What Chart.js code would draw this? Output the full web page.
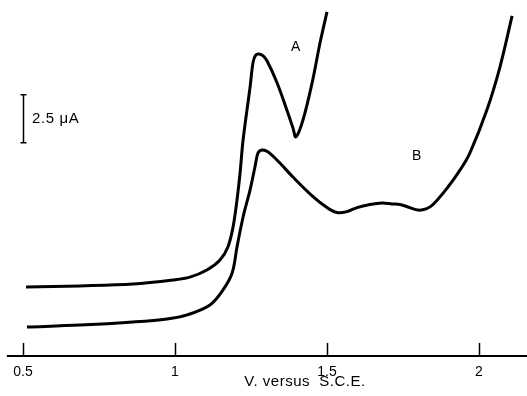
<!DOCTYPE html>
<html>
<head>
<meta charset="utf-8">
<script src="https://cdn.jsdelivr.net/npm/chart.js@4"></script>
<style>
  html, body { margin: 0; padding: 0; background: #fff; }
  #wrap { width: 527px; height: 396px; }
</style>
</head>
<body>
<div id="wrap"><canvas id="cv"></canvas></div>
<script>
// curve A (upper trace)
const aVolts = [0.51, 0.688, 0.862, 0.993, 1.049, 1.105, 1.148, 1.174, 1.191, 1.204, 1.214, 1.224, 1.247, 1.257, 1.266, 1.276, 1.290, 1.303, 1.336, 1.368, 1.388, 1.398, 1.421, 1.451, 1.477, 1.50];
const aCurrent = [3.59, 3.65, 3.75, 3.96, 4.11, 4.48, 5.00, 5.68, 6.72, 8.13, 9.53, 11.25, 14.01, 15.31, 15.68, 15.73, 15.63, 15.36, 14.22, 12.81, 11.88, 11.41, 12.29, 14.22, 16.30, 17.92];

// curve B (lower trace)
const bVolts = [0.513, 0.688, 0.862, 0.974, 1.040, 1.115, 1.158, 1.188, 1.204, 1.224, 1.247, 1.263, 1.273, 1.286, 1.306, 1.345, 1.388, 1.454, 1.50, 1.533, 1.566, 1.599, 1.641, 1.681, 1.714, 1.740, 1.773, 1.799, 1.826, 1.849, 1.898, 1.938, 1.970, 2.026, 2.069, 2.109];
const bCurrent = [1.51, 1.61, 1.77, 1.93, 2.14, 2.66, 3.44, 4.32, 5.68, 7.24, 8.65, 9.84, 10.57, 10.73, 10.63, 10.05, 9.32, 8.30, 7.73, 7.47, 7.52, 7.73, 7.89, 7.97, 7.92, 7.89, 7.73, 7.60, 7.66, 7.89, 8.80, 9.69, 10.57, 12.81, 15.05, 17.71];

const xTicks = [0.5, 1, 1.5, 2];
const xTitle = "V. versus  S.C.E.";
const barLabel = "2.5 \u03bcA";
const barSize = 2.5;

const fontFam = "'Liberation Sans', Arial, Helvetica, sans-serif";

function toPoints(xs, ys) {
  return xs.map((x, i) => ({ x: x, y: ys[i] }));
}

const decor = {
  id: "decor",
  afterDraw(chart) {
    const ctx = chart.ctx;
    const xs = chart.scales.x;
    const ys = chart.scales.y;
    const base = ys.getPixelForValue(0);

    ctx.save();
    ctx.strokeStyle = "#000";
    ctx.fillStyle = "#000";

    // axis line
    ctx.lineWidth = 2;
    ctx.beginPath();
    ctx.moveTo(xs.getPixelForValue(0.447), base);
    ctx.lineTo(chart.width, base);
    ctx.stroke();

    // ticks pointing up
    ctx.lineWidth = 1.5;
    xTicks.forEach((t) => {
      const px = Math.round(xs.getPixelForValue(t)) + 0.5;
      ctx.beginPath();
      ctx.moveTo(px, base);
      ctx.lineTo(px, base - 13);
      ctx.stroke();
    });

    // axis title
    ctx.font = "15px " + fontFam;
    ctx.letterSpacing = "0.5px";
    ctx.textAlign = "center";
    ctx.textBaseline = "alphabetic";
    ctx.fillText(xTitle, 305, 386);

    // scale bar
    const bx = Math.round(xs.getPixelForValue(0.5)) + 0.5;
    const top = ys.getPixelForValue(13.6);
    const bot = ys.getPixelForValue(13.6 - barSize);
    ctx.lineWidth = 1.5;
    ctx.beginPath();
    ctx.moveTo(bx, top);
    ctx.lineTo(bx, bot);
    ctx.moveTo(bx - 3, top);
    ctx.lineTo(bx + 3, top);
    ctx.moveTo(bx - 3, bot);
    ctx.lineTo(bx + 3, bot);
    ctx.stroke();
    ctx.font = "15px " + fontFam;
    ctx.letterSpacing = "0.6px";
    ctx.textAlign = "left";
    ctx.textBaseline = "middle";
    ctx.fillText(barLabel, 32, (top + bot) / 2);

    // curve labels
    ctx.font = "14px " + fontFam;
    ctx.letterSpacing = "0px";
    ctx.textAlign = "center";
    ctx.fillText("A", xs.getPixelForValue(1.397), ys.getPixelForValue(16.1));
    ctx.fillText("B", xs.getPixelForValue(1.795), ys.getPixelForValue(10.4));

    ctx.restore();
  },
};

const chart = new Chart(document.getElementById("cv"), {
  type: "scatter",
  data: {
    datasets: [
      {
        label: "A",
        data: toPoints(aVolts, aCurrent),
        showLine: true,
        borderColor: "#000",
        borderWidth: 3,
        borderJoinStyle: "round",
        pointRadius: 0,
        tension: 0.35,
      },
      {
        label: "B",
        data: toPoints(bVolts, bCurrent),
        showLine: true,
        borderColor: "#000",
        borderWidth: 3,
        borderJoinStyle: "round",
        pointRadius: 0,
        tension: 0.35,
      },
    ],
  },
  options: {
    responsive: true,
    maintainAspectRatio: false,
    animation: false,
    layout: { padding: 0 },
    plugins: {
      legend: { display: false },
      tooltip: { enabled: false },
    },
    scales: {
      x: {
        type: "linear",
        min: 0.4243,
        max: 2.158,
        grid: { display: false, drawTicks: false },
        border: { display: false },
        afterBuildTicks: (scale) => {
          scale.ticks = xTicks.map((v) => ({ value: v }));
        },
        afterFit: (scale) => {
          scale.height = 40;
        },
        ticks: {
          padding: 8,
          color: "#000",
          maxRotation: 0,
          autoSkip: false,
          font: { family: fontFam, size: 14 },
          callback: (v) => String(v),
        },
      },
      y: {
        display: false,
        min: 0,
        max: 18.54,
      },
    },
  },
  plugins: [decor],
});
</script>
</body>
</html>
